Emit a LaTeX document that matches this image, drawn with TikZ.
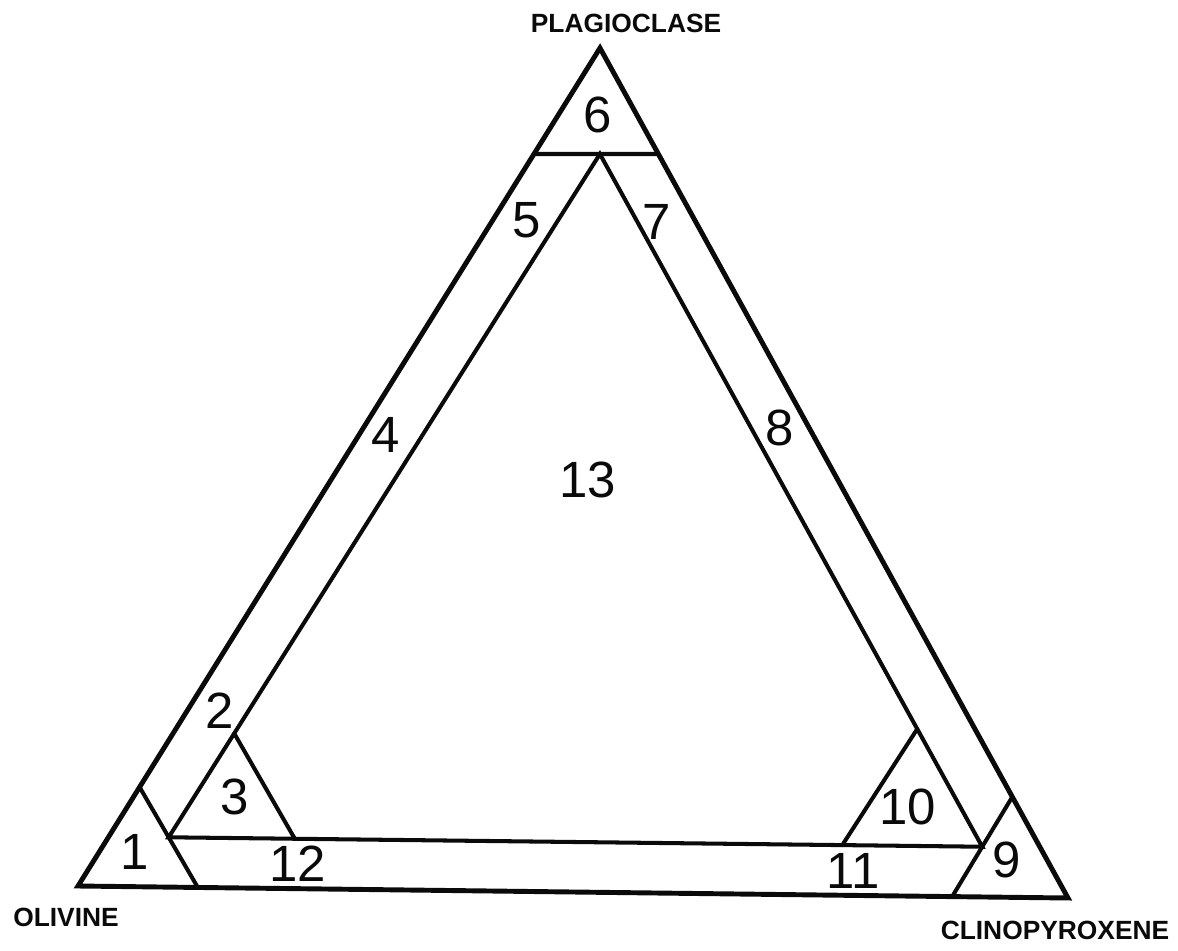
\documentclass[tikz,border=0pt]{standalone}
\usepackage{fontspec}
\setmainfont{Liberation Sans}
\usetikzlibrary{calc}
\definecolor{colInk}{RGB}{ 10, 10, 10}
\tikzset{
  outerline/.style={
    draw=colInk, line width=2.8pt, line join=miter
  },
  innerline/.style={
    draw=colInk, line width=2.3pt, line cap=round
  },
  fieldlbl/.style={
    text=colInk, font=\fontsize{29}{32}\selectfont,
    inner sep=0pt, anchor=center
  },
  cornerlbl/.style={
    text=colInk, font=\fontsize{15}{17}\selectfont\bfseries,
    inner sep=0pt, anchor=center
  },
}

\begin{document}
\begin{tikzpicture}[x=0.02cm, y=-0.02cm]

\path[use as bounding box] (0,0) rectangle (1178,951);

%% ══════════════════════════════════════════════════════════════
%%  OUTER TRIANGLE  (end members)
%% ══════════════════════════════════════════════════════════════
\coordinate (ol)  at (78,886);
\coordinate (pl)  at (600,48);
\coordinate (cpx) at (1068,898);

\draw[outerline] (ol) -- (pl) -- (cpx) -- cycle;

%% ── points on the outer edges ───────────────────────────────
\coordinate (a1)  at ($(ol)!0.118!(pl)$);
\coordinate (b1)  at ($(ol)!0.121!(cpx)$);
\coordinate (a6L) at ($(ol)!0.8735!(pl)$);
\coordinate (a6R) at ($(pl)!0.1247!(cpx)$);
\coordinate (a9)  at ($(pl)!0.881!(cpx)$);
\coordinate (b9)  at ($(ol)!0.883!(cpx)$);

%% ══════════════════════════════════════════════════════════════
%%  INNER TRIANGLE  (field 13)
%% ══════════════════════════════════════════════════════════════
\coordinate (i1) at ($(a1)!0.5!(b1)$);
\coordinate (i9) at ($(a9)!0.5!(b9)$);
\coordinate (i6) at ($(a6L)!0.53!(a6R)$);

% corner cuts
\draw[innerline] (a6L) -- (a6R);
\draw[innerline] (a1) -- (b1);
\draw[innerline] (a9) -- (b9);

% inner edges
\draw[innerline] (i6) -- (i1) -- (i9) -- cycle;

%% ── small corner triangles 3 and 10 ─────────────────────────
\coordinate (c3)  at ($(i1)!0.152!(i6)$);
\coordinate (d3)  at ($(i1)!0.155!(i9)$);
\coordinate (c10) at ($(i9)!0.170!(i6)$);
\coordinate (d10) at ($(i9)!0.172!(i1)$);

\draw[innerline] (c3) -- (d3);
\draw[innerline] (c10) -- (d10);

%% ══════════════════════════════════════════════════════════════
%%  FIELD NUMBERS
%% ══════════════════════════════════════════════════════════════
\node[fieldlbl] (f1)  at (135,852) {1};
\node[fieldlbl] (f2)  at (220,711) {2};
\node[fieldlbl] (f3)  at (235,797) {3};
\node[fieldlbl] (f4)  at (386,435) {4};
\node[fieldlbl] (f5)  at (527,220) {5};
\node[fieldlbl] (f6)  at (598,115) {6};
\node[fieldlbl] (f7)  at (657,222) {7};
\node[fieldlbl] (f8)  at (780,428) {8};
\node[fieldlbl] (f9)  at (1007,860) {9};
\node[fieldlbl] (f10) at (908,807) {10};
\node[fieldlbl] (f11) at (853,871) {11};
\node[fieldlbl] (f12) at (298,864) {12};
\node[fieldlbl] (f13) at (588,480) {13};

%% ══════════════════════════════════════════════════════════════
%%  END-MEMBER NAMES
%% ══════════════════════════════════════════════════════════════
\node[cornerlbl] (plag) at (626,23)  {PLAGIOCLASE};
\node[cornerlbl] (oliv) at (66,917)  {OLIVINE};
\node[cornerlbl] (clin) at (1055,930) {CLINOPYROXENE};

\end{tikzpicture}
\end{document}
